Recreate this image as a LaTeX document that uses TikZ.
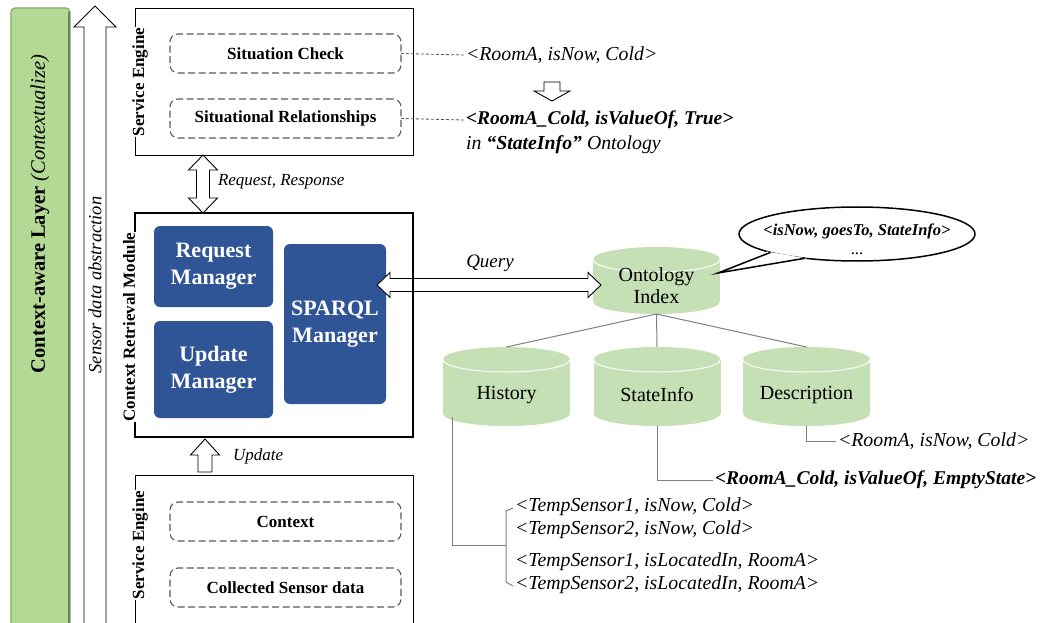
\documentclass[tikz,border=0pt]{standalone}
\usepackage{fontspec}
\setmainfont{Liberation Serif}
\usetikzlibrary{shapes.geometric,calc}
\definecolor{blueM}{HTML}{2F5597}
\definecolor{dbg}{HTML}{C5E0B4}
\definecolor{barg}{HTML}{B3D995}
\definecolor{barb}{HTML}{86AA66}
\definecolor{dgray}{HTML}{595959}
\definecolor{lgray}{HTML}{7F7F7F}
\newcommand{\dbcyl}[4]{%
  \fill[dbg] (#2-63.5,#3+12.5) rectangle (#2+63.5,#4-12.5);
  \fill[dbg] (#2,#4-12.5) ellipse [x radius=63.5, y radius=12.5];
  \fill[dbg] (#2,#3+12.5) ellipse [x radius=63.5, y radius=12.5];
  \draw[white, line width=1pt] (#2-63.5,#3+12.5) arc[start angle=180,end angle=0,x radius=63.5,y radius=12.5];
  \node[minimum width=127pt, minimum height={#4-#3}] (#1) at (#2,{(#3+#4)/2}) {};
}
\begin{document}
\begin{tikzpicture}[x=1pt,y=-1pt,
  every node/.style={inner sep=0pt, outer sep=0pt},
  sebox/.style={draw=black, line width=0.9pt},
  selabel/.style={fill=white, rotate=90, font=\fontsize{17}{20}\selectfont\bfseries, inner sep=1pt},
  dbox/.style={draw=dgray, dash pattern=on 7pt off 3.5pt, line width=1.1pt, rounded corners=8pt, minimum width=231pt, minimum height=39pt, font=\fontsize{17}{20}\selectfont\bfseries},
  mgr/.style={fill=blueM, rounded corners=6pt, text=white, align=center, font=\fontsize{22}{27}\selectfont\bfseries},
  hollow/.style={draw=black, fill=white, line width=0.9pt, line join=miter},
  lbl/.style={font=\fontsize{17}{20}\selectfont\itshape, anchor=west},
  trip/.style={font=\fontsize{19.8}{23}\selectfont\itshape, anchor=west, inner sep=2pt},
  btrip/.style={font=\fontsize{19.5}{23}\selectfont\bfseries\itshape, anchor=west, inner sep=2pt},
  conn/.style={draw=lgray, line width=1pt},
  dconn/.style={draw=dgray, dash pattern=on 3pt off 2pt, line width=0.8pt},
  cyltext/.style={font=\fontsize{20}{22}\selectfont, align=center},
  ]
\useasboundingbox (0,0) rectangle (1045,623);

% green layer bar
\draw[fill=barg, draw=barb, line width=1.2pt, rounded corners=4pt] (11,8) rectangle (70,650);
\draw[barb!80!black, line width=1.2pt] (69,12) -- (69,650);
\node[rotate=90, font=\fontsize{20.5}{24}\selectfont] (layer) at (40,214) {\textbf{Context-aware Layer} \textit{(Contextualize)}};

% big hollow arrow
\draw[hollow] (84,650) -- (84,27) -- (74,27) -- (95,6) -- (116,27) -- (106,27) -- (106,650);
\node[rotate=90, font=\fontsize{18.5}{22}\selectfont\itshape] (sda) at (95,285) {Sensor data abstraction};

% top service engine
\node[sebox, minimum width=278pt, minimum height=147pt] (se1) at (274,81.5) {};
\node[selabel] (se1l) at (140,82) {Service Engine};
\node[dbox] (sc) at (285.5,53.5) {Situation Check};
\node[dbox] (sr) at (285.5,118.5) {Situational Relationships};

% managers
\node[mgr, minimum width=119pt, minimum height=81pt] (rm) at (213.5,266.5) {Request\\Manager};
\node[mgr, minimum width=119pt, minimum height=97pt] (um) at (213.5,369.5) {Update\\Manager};
\node[mgr, minimum width=102pt, minimum height=160pt] (sm) at (335,324) {SPARQL\\Manager};

% ontology index cylinder
\dbcyl{onto}{656.5}{247}{314}
\node[cyltext] (ontot) at (656.5,286) {Ontology\\Index};

% query double arrow
\draw[hollow] (377,285) -- (390,272.5) -- (390,278.5) -- (588,278.5) -- (588,272.5) -- (601,285)
  -- (588,297.5) -- (588,291.5) -- (390,291.5) -- (390,297.5) -- cycle;
\node[font=\fontsize{19}{22}\selectfont\itshape] (ql) at (490,263) {Query};

% context retrieval module
\node[draw, line width=2.4pt, minimum width=278pt, minimum height=224pt] (crm) at (274,325) {};
\node[selabel] (crml) at (129,327) {Context Retrieval Module};

% request/response arrow
\draw[hollow] (203,155) -- (217.5,170) -- (209.5,170) -- (209.5,198) -- (217.5,198) -- (203,213)
  -- (188.5,198) -- (196.5,198) -- (196.5,170) -- (188.5,170) -- cycle;
\node[lbl] (rr) at (218,182) {Request, Response};

% update arrow
\draw[hollow] (205,439) -- (219.5,455) -- (212,455) -- (212,472) -- (198,472) -- (198,455) -- (190.5,455) -- cycle;
\node[lbl] (upl) at (233,456) {Update};

% bottom service engine
\node[sebox, minimum width=278pt, minimum height=170pt] (se2) at (274,560) {};
\node[selabel] (se2l) at (140,545) {Service Engine};
\node[dbox] (ctx) at (285.5,521.5) {Context};
\node[dbox] (csd) at (285.5,587.5) {Collected Sensor data};

% situation triples
\node[trip] (t1) at (464,55) {<RoomA, isNow, Cold>};
\node[btrip] (t2) at (464,120) {<RoomA\_Cold, isValueOf, True>};
\node[trip] (t3) at (464,145) {in \textbf{“StateInfo”} Ontology};
\draw[dconn] (sc.east) -- (t1.west);
\draw[dconn] (sr.east) -- (t2.west);
\draw[hollow] (544,82) -- (560,82) -- (560,91) -- (570,91) -- (552,101) -- (534,91) -- (544,91) -- cycle;

% speech bubble
\node[ellipse, draw, line width=1.5pt, fill=white, minimum width=236pt, minimum height=54pt] (bub) at (857,234) {};
\fill[white] (bub.191) -- (718,273) -- (bub.206) -- cycle;
\draw[line width=1.5pt, line join=miter] (bub.192) -- (718,273) -- (bub.205);
\node[align=center, font=\fontsize{16.5}{19}\selectfont] (bubt) at (857,239) {\textbf{\textit{<isNow, goesTo, StateInfo>}}\\...};

% lower cylinders
\dbcyl{hist}{506.5}{347}{426}
\dbcyl{state}{657}{347}{426}
\dbcyl{desc}{806.5}{347}{426}
\node[cyltext] (histt) at (506.5,395) {History};
\node[cyltext] (statet) at (657,395) {StateInfo};
\node[cyltext] (desct) at (806.5,395) {Description};

\draw[conn] (onto.south) -- (hist.north);
\draw[conn] (onto.south) -- (state.north);
\draw[conn] (onto.south) -- (desc.north);

% description / stateinfo triples
\node[trip] (d1) at (836,441) {<RoomA, isNow, Cold>};
\draw[conn] (desc.south) |- (d1.west);
\node[btrip] (es) at (713,480) {<RoomA\_Cold, isValueOf, EmptyState>};
\draw[conn] (state.south) |- (es.west);

% history triples
\node[trip] (h1) at (513,507) {<TempSensor1, isNow, Cold>};
\node[trip] (h2) at (513,530) {<TempSensor2, isNow, Cold>};
\node[trip] (h3) at (513,562) {<TempSensor1, isLocatedIn, RoomA>};
\node[trip] (h4) at (513,585) {<TempSensor2, isLocatedIn, RoomA>};
\draw[conn] ($(h1.west)+(0,1)$) -- ++(-7,3) -- ($(h4.west)+(-7,-3)$) -- ($(h4.west)+(0,1)$);
\coordinate (brk) at ($(h1.west)!0.5!(h4.west)+(-7,-1)$);
\draw[conn] ($(hist.south west)+(9,-9)$) |- (brk);
\end{tikzpicture}
\end{document}
